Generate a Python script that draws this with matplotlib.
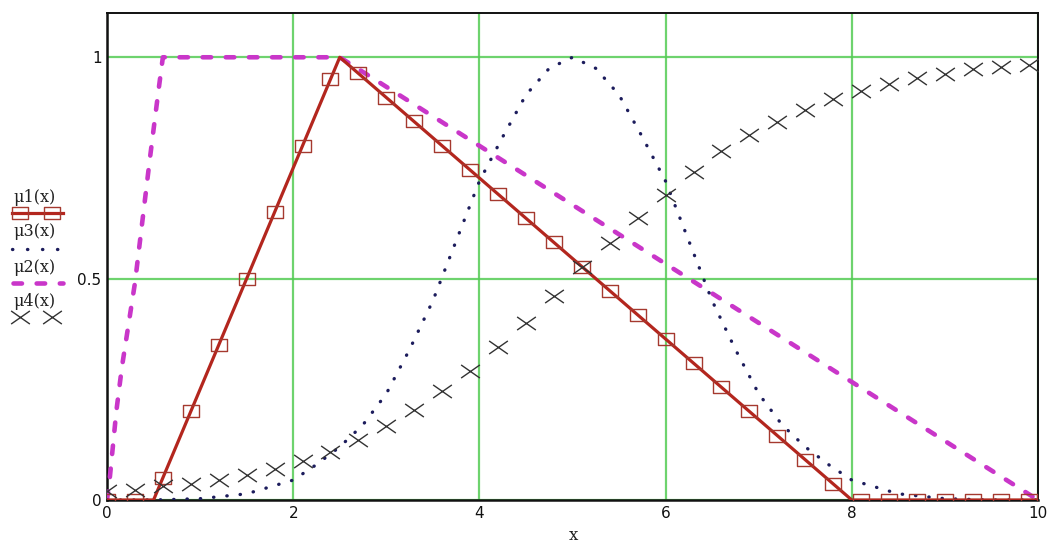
"""Membership functions mu1..mu4 in the style of a Mathcad plot."""

import matplotlib
matplotlib.use("agg")
import matplotlib.pyplot as plt
from matplotlib.path import Path

# Sample points where Mathcad draws the markers
mark_x = [0.0, 0.3, 0.6, 0.9, 1.2, 1.5, 1.8, 2.1, 2.4, 2.7, 3.0, 3.3,
          3.6, 3.9, 4.2, 4.5, 4.8, 5.1, 5.4, 5.7, 6.0, 6.3, 6.6, 6.9,
          7.2, 7.5, 7.8, 8.1, 8.4, 8.7, 9.0, 9.3, 9.6, 9.9]

# mu1: triangle 0.5 -> 2.5 -> 8
mu1_x = [0.0, 0.5, 2.5, 8.0, 10.0]
mu1_y = [0.0, 0.0, 1.0, 0.0, 0.0]
mu1_marks = [0.0, 0.0, 0.05, 0.2, 0.35, 0.5, 0.65, 0.8, 0.95, 0.964, 0.909,
             0.855, 0.8, 0.745, 0.691, 0.636, 0.582, 0.527, 0.473, 0.418,
             0.364, 0.309, 0.255, 0.2, 0.145, 0.091, 0.036, 0.0, 0.0, 0.0,
             0.0, 0.0, 0.0, 0.0]

# mu2: steep rise to 1, plateau, long linear fall
mu2_x = [0.0, 0.03, 0.1, 0.16, 0.3, 0.46, 0.55, 0.6, 2.5, 10.0]
mu2_y = [0.0, 0.05, 0.2, 0.3, 0.49, 0.77, 0.92, 1.0, 1.0, 0.0]

# mu3: bell centred on 5
mu3_x = [0.0, 0.5, 1.0, 1.5, 2.0, 2.25, 2.5, 2.75, 3.0, 3.25, 3.5, 3.75,
         4.0, 4.25, 4.5, 4.75, 5.0, 5.25, 5.5, 5.75, 6.0, 6.25, 6.5, 6.75,
         7.0, 7.25, 7.5, 7.75, 8.0, 8.5, 9.0, 9.5, 10.0]
mu3_y = [0.0, 0.0, 0.003, 0.014, 0.045, 0.08, 0.12, 0.17, 0.24, 0.34, 0.45,
         0.585, 0.72, 0.82, 0.915, 0.975, 1.0, 0.975, 0.915, 0.82, 0.72,
         0.585, 0.45, 0.34, 0.24, 0.17, 0.12, 0.08, 0.045, 0.014, 0.003,
         0.0, 0.0]

# mu4: slowly rising S-curve, crosses only
mu4_marks = [0.02, 0.022, 0.032, 0.036, 0.045, 0.056, 0.069, 0.087, 0.109,
             0.135, 0.168, 0.203, 0.247, 0.292, 0.345, 0.40, 0.46, 0.527,
             0.581, 0.636, 0.69, 0.74, 0.788, 0.824, 0.854, 0.882, 0.905,
             0.924, 0.939, 0.953, 0.962, 0.973, 0.978, 0.982]

x_ticks = [0, 2, 4, 6, 8, 10]
y_ticks = [0, 0.5, 1]
y_tick_labels = ["0", "0.5", "1"]

RED = "#b3261e"
SQUARE_EDGE = "#a5392f"
MAGENTA = "#c936c9"
NAVY = "#1c1c5c"
CROSS = "#333333"
GRID = "#55cc55"

DASHES = (0, (1.85, 3.2))
DOTS = (0, (0.1, 3.9))

# the source picture is stretched sideways, so markers are wider than tall
square = Path([(-1, -0.7), (1, -0.7), (1, 0.7), (-1, 0.7), (-1, -0.7)],
              [Path.MOVETO, Path.LINETO, Path.LINETO, Path.LINETO, Path.CLOSEPOLY])
cross = Path([(-1, -0.7), (1, 0.7), (-1, 0.7), (1, -0.7)],
             [Path.MOVETO, Path.LINETO, Path.MOVETO, Path.LINETO])

W, H = 1054, 547
fig = plt.figure(figsize=(W / 100, H / 100), dpi=100)
ax = fig.add_axes([107 / W, 47 / H, 931 / W, 487 / H])

ax.plot(mu2_x, mu2_y, color=MAGENTA, lw=3.3, linestyle=DASHES,
        dash_capstyle="round", zorder=3)
ax.plot(mu3_x, mu3_y, color=NAVY, lw=2.4, linestyle=DOTS,
        dash_capstyle="round", zorder=4)
ax.plot(mu1_x, mu1_y, color=RED, lw=2.3, zorder=5)
ax.plot(mark_x, mu1_marks, linestyle="none", marker=square, ms=12,
        mfc="none", mec=SQUARE_EDGE, mew=1.0, zorder=6)
ax.plot(mark_x, mu4_marks, linestyle="none", marker=cross, ms=13.5,
        mfc="none", mec=CROSS, mew=1.0, zorder=6)

ax.set_xlim(0, 10)
ax.set_ylim(0, 1.1)
ax.set_xticks(x_ticks)
ax.set_yticks(y_ticks)
ax.set_yticklabels(y_tick_labels)
ax.tick_params(length=0, labelsize=11, pad=4, colors="#111111")
ax.grid(True, color=GRID, lw=1.6, alpha=0.85)
ax.set_axisbelow(True)
for s in ax.spines.values():
    s.set_linewidth(1.4)
    s.set_color("#111111")
ax.spines["left"].set_linewidth(1.8)
ax.spines["bottom"].set_linewidth(1.8)

fig.text(573 / W, 1 - 536 / H, "x", ha="center", va="center",
         fontsize=12, family="DejaVu Serif", color="#222222")

# Mathcad-style legend on the left, label above each line sample
lg = fig.add_axes([0, 0, 1, 1], zorder=-1)
lg.set_xlim(0, W)
lg.set_ylim(H, 0)
lg.axis("off")

labels = ["\u03bc1(x)", "\u03bc3(x)", "\u03bc2(x)", "\u03bc4(x)"]
label_y = [197, 232, 268, 301]
sample_y = [213, 249, 283, 317]
for lab, ty in zip(labels, label_y):
    lg.text(13, ty, lab, ha="left", va="center", fontsize=11.5,
            family="DejaVu Serif", color="#222222")

lg.plot([12, 63], [sample_y[0]] * 2, color=RED, lw=2.3)
lg.plot([20, 52], [sample_y[0]] * 2, linestyle="none", marker=square, ms=12,
        mfc="none", mec=SQUARE_EDGE, mew=1.0)
lg.plot([12, 62], [sample_y[1]] * 2, color=NAVY, lw=2.4,
        linestyle=(0, (0.1, 4.4)), dash_capstyle="round")
lg.plot([13, 63], [sample_y[2]] * 2, color=MAGENTA, lw=3.3,
        linestyle=DASHES, dash_capstyle="round")
lg.plot([20, 52], [sample_y[3]] * 2, linestyle="none", marker=cross, ms=13.5,
        mfc="none", mec=CROSS, mew=1.0)

fig.savefig("out.png", dpi=100)
